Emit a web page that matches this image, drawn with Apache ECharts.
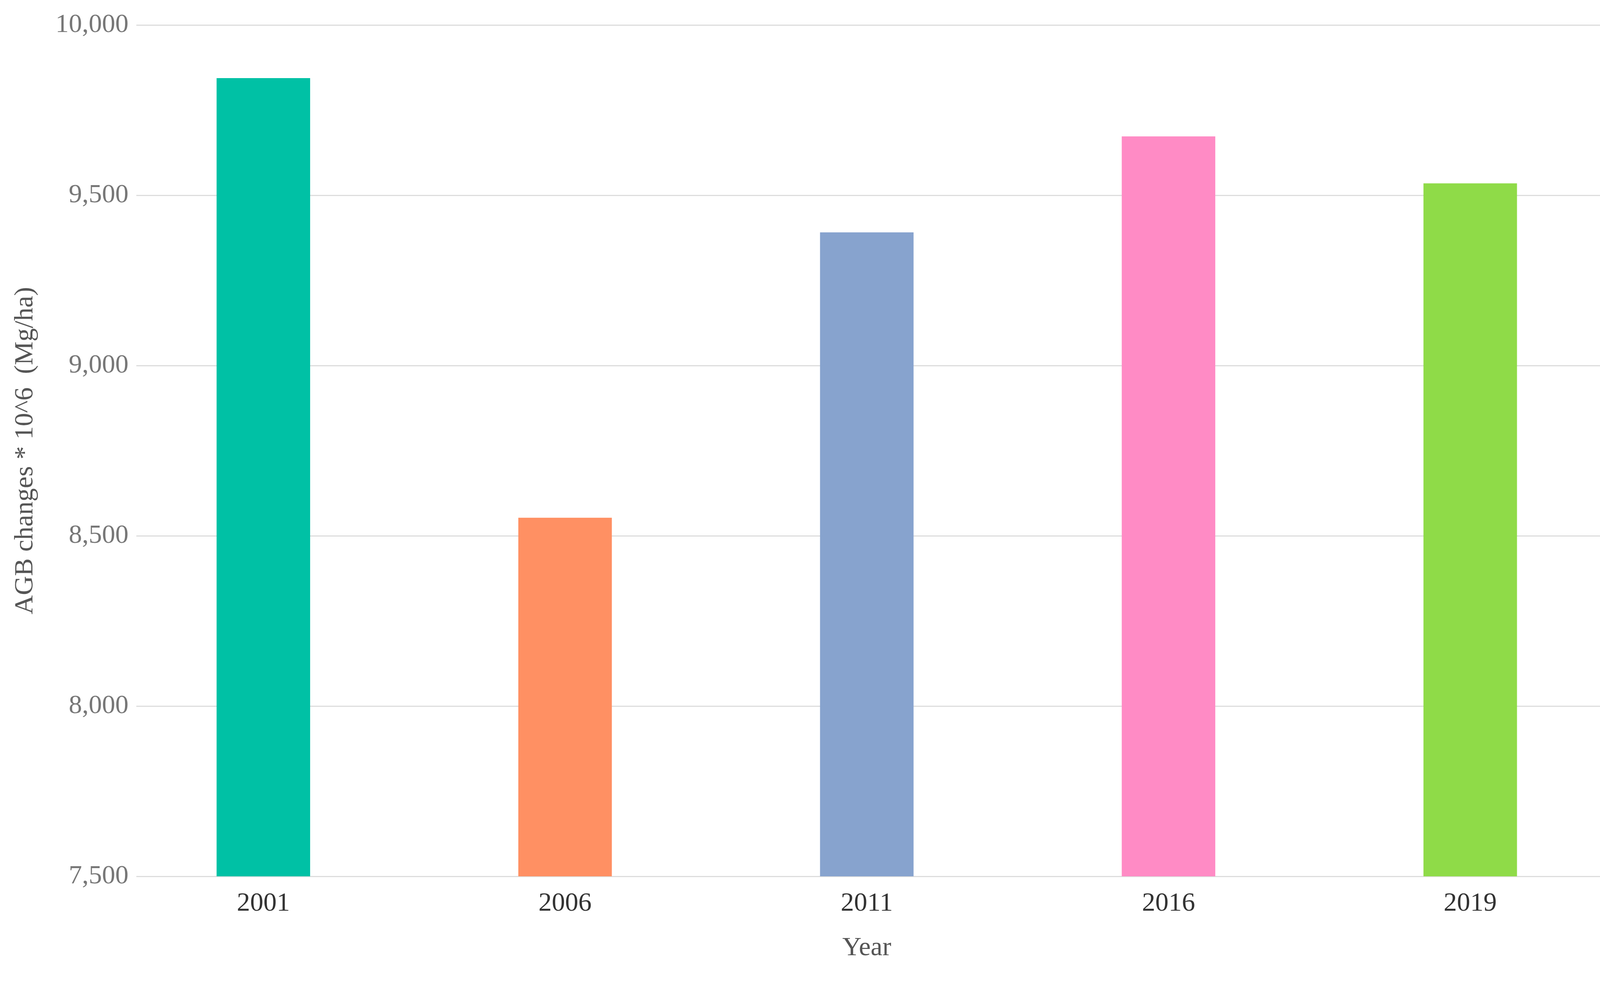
<!DOCTYPE html>
<html><head><meta charset="utf-8">
<script src="https://cdn.jsdelivr.net/npm/echarts@6/dist/echarts.min.js"></script>
<style>html,body{margin:0;padding:0;background:#fff}#c{width:4207px;height:2553px}</style>
</head><body><div id="c"></div>
<script>
const categories = ['2001','2006','2011','2016','2019'];
const values = [9844, 8553, 9391, 9673, 9535];
const colors = ['#00C1A5','#FF9063','#87A3CE','#FF8BC5','#8FDB48'];
const yTicks = {min:7500, max:10000, interval:500};
const chart = echarts.init(document.getElementById('c'));
const font = 'Liberation Serif';
chart.setOption({
  animation:false,
  grid:[{left:349,right:57,top:64,bottom:309},{left:288,right:57,top:64,bottom:309}],
  xAxis:[
    {type:'category',gridIndex:0,data:categories,show:false},
    {type:'category',gridIndex:1,data:categories,name:'Year',nameLocation:'middle',nameGap:150,
    nameTextStyle:{fontFamily:font,fontSize:68,color:'#555'},
    axisLine:{show:false},axisTick:{show:false},
    axisLabel:{fontFamily:font,fontSize:68,color:'#333',margin:36}}],
  yAxis:[
    {type:'value',gridIndex:0,min:yTicks.min,max:yTicks.max,interval:yTicks.interval,name:'AGB changes * 10^6  (Mg/ha)',
    nameLocation:'middle',nameGap:250,nameTextStyle:{fontFamily:font,fontSize:68,color:'#555'},
    axisLine:{show:false},axisTick:{show:false},
    splitLine:{lineStyle:{color:'#ddd',width:3}},
    axisLabel:{fontFamily:font,fontSize:68,color:'#777',margin:20,
      formatter:v=>v.toLocaleString('en-US')}},
    {type:'value',gridIndex:1,min:yTicks.min,max:yTicks.max,interval:yTicks.interval,show:false,splitLine:{show:false}}],
  series:[{type:'bar',xAxisIndex:1,yAxisIndex:1,barWidth:'31%',
    data:values.map((v,i)=>({value:v,itemStyle:{color:colors[i]}}))},
    {type:'line',xAxisIndex:0,yAxisIndex:0,data:[],silent:true}]
});
</script></body></html>
